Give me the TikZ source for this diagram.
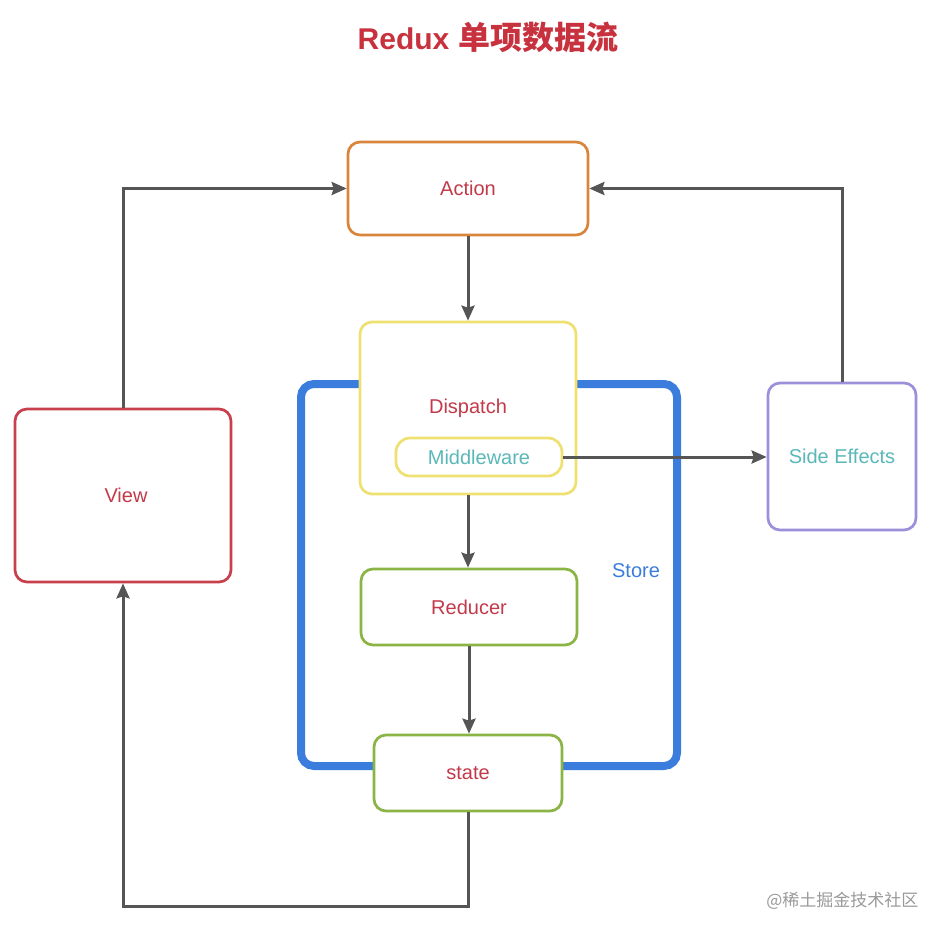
\documentclass[tikz,border=0pt]{standalone}
\usepackage{fontspec}
\setmainfont{Liberation Sans}
\newfontfamily\cjk{Noto Sans CJK SC}
\usetikzlibrary{arrows.meta}
\definecolor{titlered}{HTML}{C7323E}
\definecolor{labred}{HTML}{C23A4A}
\definecolor{teal}{HTML}{5BB8B8}
\definecolor{storeblue}{HTML}{3B7DDD}
\definecolor{orangeb}{HTML}{D9853B}
\definecolor{yellowb}{HTML}{EFE171}
\definecolor{greenb}{HTML}{8AB545}
\definecolor{redb}{HTML}{C8404C}
\definecolor{purpleb}{HTML}{9D8FD9}
\definecolor{arrowgray}{HTML}{555555}
\definecolor{wm}{HTML}{9A9A9A}
\tikzset{
  box/.style={draw, line width=2.7pt, rounded corners=12pt, fill=white, inner sep=0pt,
    font=\fontsize{20}{24}\selectfont, text=labred},
  arr/.style={draw=arrowgray, line width=3pt, -{Stealth[length=15pt,width=13pt,inset=2pt]}},
  storebox/.style={draw=storeblue, line width=8pt, rounded corners=13pt, minimum width=376pt, minimum height=382pt, inner sep=0pt}
}
\begin{document}
\begin{tikzpicture}[x=1pt,y=-1pt]
\useasboundingbox[fill=white] (0,0) rectangle (948,936);
\node[text=titlered, inner sep=0pt] (title) at (488,37) {\bfseries\fontsize{30}{36}\selectfont Redux\hspace{9pt}\cjk\bfseries\fontsize{32}{36}\selectfont 单项数据流};
\node[storebox] (store) at (489,575) {};
\node[font=\fontsize{20}{24}\selectfont, text=storeblue] (storelab) at (636,571) {Store};
\node[box, draw=orangeb, minimum width=240pt, minimum height=93pt] (action) at (468,188.5) {Action};
\node[box, draw=yellowb, minimum width=216pt, minimum height=172pt] (dispatch) at (468,408) {Dispatch};
\node[box, draw=yellowb, rounded corners=14pt, minimum width=166pt, minimum height=38pt, text=teal] (mw) at (479,457) {Middleware};
\node[box, draw=greenb, minimum width=216pt, minimum height=76pt] (reducer) at (469,607) {Reducer};
\node[box, draw=greenb, minimum width=188pt, minimum height=76pt] (state) at (468,773) {state};
\node[box, draw=redb, minimum width=216pt, minimum height=173pt] (view) at (123,495.5) {\hspace*{6pt}View};
\node[box, draw=purpleb, minimum width=148pt, minimum height=147pt, text=teal] (side) at (842,456.5) {Side Effects};
\node[font=\cjk\fontsize{17}{20}\selectfont, text=wm, anchor=east] (wmark) at (922,901) {@稀土掘金技术社区};
\coordinate (bend) at (468,906);
\draw[arr] (view.north) |- (action.west);
\draw[arr] (side.north) |- (action.east);
\draw[arr] (action.south) -- (dispatch.north);
\draw[arr] (mw.east) -- (mw.east -| side.west);
\draw[arr] (dispatch.south) -- (reducer.north -| dispatch.south);
\draw[arr] (reducer.south) -- (state.north -| reducer.south);
\draw[arr] (state.south) -- (bend) -| (view.south);
\end{tikzpicture}
\end{document}
